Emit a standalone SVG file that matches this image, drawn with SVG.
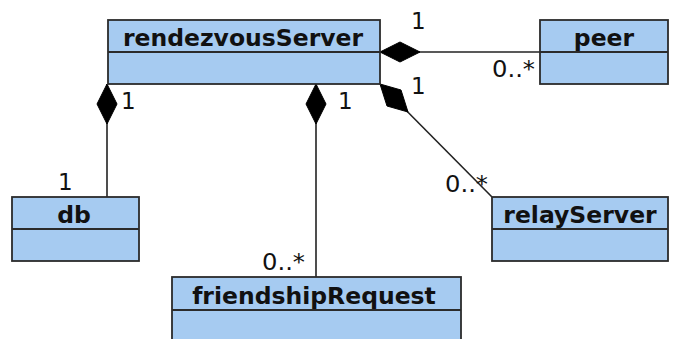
<svg xmlns="http://www.w3.org/2000/svg" width="674" height="339" viewBox="0 0 674 339">
<style>
.box{fill:#a6cbf1;stroke:#2b2b2b;stroke-width:1.8}
.div{stroke:#2b2b2b;stroke-width:1.8;fill:none}
.name{font-family:"DejaVu Sans",sans-serif;font-weight:bold;font-size:23.5px;fill:#111;text-anchor:middle}
.lbl{font-family:"DejaVu Sans",sans-serif;font-size:23px;fill:#111}
.line{stroke:#222;stroke-width:1.6;fill:none}
.dia{fill:#000;stroke:#000;stroke-width:1}
</style>
<rect width="674" height="339" fill="#fff"/>
<g id="connectors">
<line class="line" x1="380" y1="52" x2="540" y2="52"/>
<polygon class="dia" points="380,52 400,42 420,52 400,62"/>
<line class="line" x1="380" y1="84" x2="492" y2="197"/>
<polygon class="dia" points="380,84 401,90 408,112 387,106"/>
<line class="line" x1="107" y1="84" x2="107" y2="197"/>
<polygon class="dia" points="107,84 117,104 107,124 97,104"/>
<line class="line" x1="316" y1="84" x2="316" y2="277"/>
<polygon class="dia" points="316,84 326,104 316,124 306,104"/>
<text class="lbl" x="411" y="29">1</text>
<text class="lbl" x="492" y="77" textLength="43" lengthAdjust="spacingAndGlyphs">0..*</text>
<text class="lbl" x="411" y="94">1</text>
<text class="lbl" x="445" y="192" textLength="43" lengthAdjust="spacingAndGlyphs">0..*</text>
<text class="lbl" x="121" y="109">1</text>
<text class="lbl" x="58" y="190">1</text>
<text class="lbl" x="338" y="109">1</text>
<text class="lbl" x="262" y="270" textLength="43" lengthAdjust="spacingAndGlyphs">0..*</text>
</g>
<g id="rendezvousServer">
<rect class="box" x="108" y="20" width="272" height="64"/>
<line class="div" x1="108" y1="52" x2="380" y2="52"/>
<text class="name" x="243" y="45.5">rendezvousServer</text>
</g>
<g id="peer">
<rect class="box" x="540" y="20" width="128" height="64"/>
<line class="div" x1="540" y1="52" x2="668" y2="52"/>
<text class="name" x="604" y="45.5">peer</text>
</g>
<g id="db">
<rect class="box" x="12" y="197" width="127" height="64"/>
<line class="div" x1="12" y1="229" x2="139" y2="229"/>
<text class="name" x="74" y="222.5">db</text>
</g>
<g id="relayServer">
<rect class="box" x="492" y="197" width="176" height="64"/>
<line class="div" x1="492" y1="229" x2="668" y2="229"/>
<text class="name" x="580" y="222.5">relayServer</text>
</g>
<g id="friendshipRequest">
<rect class="box" x="172" y="277" width="289" height="64"/>
<line class="div" x1="172" y1="310" x2="461" y2="310"/>
<text class="name" x="314" y="303.5">friendshipRequest</text>
</g>
</svg>
